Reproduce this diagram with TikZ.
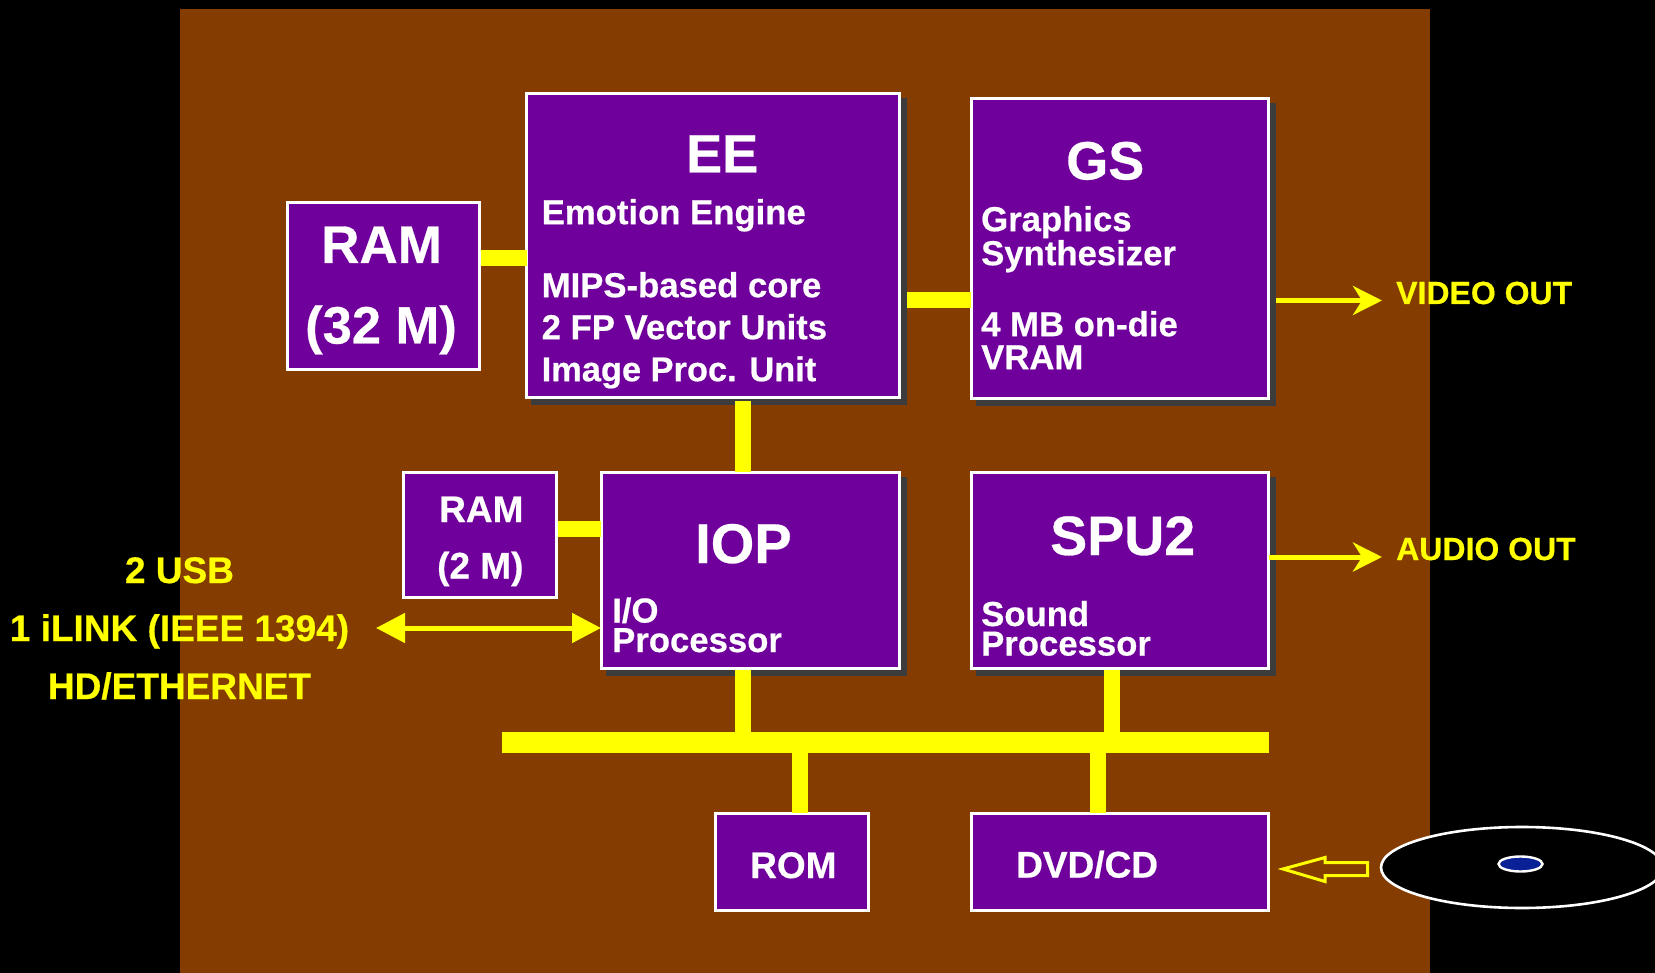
\documentclass[tikz,border=0pt]{standalone}
\usepackage{fontspec}
\setmainfont[BoldFeatures={FakeBold=0.5}]{Liberation Sans}
\usetikzlibrary{arrows.meta,shadows}
\definecolor{brownbg}{RGB}{132,60,0}
\definecolor{boxpurple}{RGB}{111,0,155}
\definecolor{shadowgrey}{RGB}{60,60,60}
\definecolor{hubblue}{RGB}{10,32,150}
\definecolor{pureyellow}{RGB}{255,255,0}
\definecolor{purewhite}{RGB}{255,255,255}
\newcommand{\bfsize}[1]{\fontsize{#1}{#1}\bfseries\selectfont}
\tikzset{
  x=1pt,y=-1pt,
  blockbox/.style={draw=purewhite,line width=3pt,fill=boxpurple,inner sep=0pt,outer sep=0pt,anchor=north west},
  shadowed/.style={blockbox,drop shadow={shadow xshift=6pt,shadow yshift=-6pt,fill=shadowgrey,draw=shadowgrey,line width=3pt,opacity=1}},
  big/.style={font=\bfsize{54},text=purewhite,inner sep=0pt,anchor=base west},
  mid/.style={font=\bfsize{37},text=purewhite,inner sep=0pt,anchor=base west},
  small/.style={font=\bfsize{34.7},text=purewhite,inner sep=0pt,anchor=base west},
  ylabel/.style={font=\bfsize{32},text=pureyellow,inner sep=0pt,anchor=base west},
  leftlabel/.style={font=\bfsize{37},text=pureyellow,inner sep=0pt,anchor=base},
  thick bus/.style={draw=pureyellow,line width=16pt},
  thin arrow/.style={draw=pureyellow,line width=5pt},
}
\begin{document}
\begin{tikzpicture}
\useasboundingbox (0,0) rectangle (1655,973);
\clip (0,0) rectangle (1655,973);
\fill[black] (0,0) rectangle (1655,973);
\fill[brownbg] (180,9) rectangle (1430,973);

\node[shadowed,minimum width=372.5pt,minimum height=304.5pt] (ee) at (526.5,93.5) {};
\node[shadowed,minimum width=297pt,minimum height=300.5pt] (gs) at (971,98.5) {};
\node[blockbox,minimum width=192pt,minimum height=167.5pt] (ram32) at (287,202.5) {};
\node[blockbox,minimum width=153pt,minimum height=125.5pt] (ram2) at (403,472) {};
\node[shadowed,minimum width=298pt,minimum height=196pt] (iop) at (601,472) {};
\node[shadowed,minimum width=297pt,minimum height=196pt] (spu) at (971,472) {};
\node[blockbox,minimum width=153pt,minimum height=97pt] (rom) at (715,813) {};
\node[blockbox,minimum width=297pt,minimum height=97pt] (dvd) at (971,813) {};

% bus
\coordinate (busl) at (502,742);
\coordinate (busr) at (1269,742);
\draw[draw=pureyellow,line width=21pt] (busl) -- (busr);

% connectors
\draw[thick bus] ([xshift=2pt]ram32.east |- 0,258) -- (ee.west |- 0,258);
\draw[thick bus] (907,300) -- (gs.west |- 0,300);
\draw[thick bus] (743,401) -- (iop.north -| 743,0);
\draw[thick bus] ([xshift=2pt]ram2.east |- 0,528.5) -- (iop.west |- 0,528.5);
\draw[thick bus] ([yshift=-2pt]iop.south -| 743,0) -- (743,742);
\draw[thick bus] ([yshift=-2pt]spu.south -| 1112,0) -- (1112,742);
\draw[thick bus] (800,742) -- (rom.north -| 800,0);
\draw[thick bus] (1098,742) -- (dvd.north -| 1098,0);

% arrows
\coordinate (vid) at (1382,300.5);
\coordinate (aud) at (1382,557);
\coordinate (ext) at (376,628);
\draw[thin arrow,-{Stealth[length=29pt,width=29pt,inset=9pt]}] (1276,300.5) -- (vid);
\draw[thin arrow,-{Stealth[length=29pt,width=29pt,inset=9pt]}] ([xshift=1pt]spu.east |- aud) -- (aud);
\draw[thin arrow,{Triangle[length=29pt,width=29pt]}-{Triangle[length=29pt,width=29pt]}] (ext) -- (iop.west |- ext);

% hollow arrow
\draw[pureyellow,line width=3pt,miter limit=10] (1283,869) -- (1325,857.5) -- (1325,862.5) -- (1367.5,862.5) -- (1367.5,875.5) -- (1325,875.5) -- (1325,881.5) -- cycle;

% disc
\draw[purewhite,line width=2.6pt,fill=black] (1522,867.5) ellipse [x radius=141,y radius=40.5];
\draw[purewhite,line width=2.4pt,fill=hubblue] (1520.5,864) ellipse [x radius=22,y radius=7.5];

% text
\node[big] (t1) at (686,172.5) {EE};
\node[small] (t2) at (541.5,224.2) {Emotion Engine};
\node[small] (t3) at (541.5,297.2) {MIPS-based core};
\node[small] (t4) at (541.5,339.2) {2 FP Vector Units};
\node[small,font=\bfsize{34.4}] (t5) at (541.5,381.2) {Image Proc. Unit};
\node[big] (t6) at (1066,179.5) {GS};
\node[small] (t7) at (981,231.2) {Graphics};
\node[small] (t8) at (981,265.2) {Synthesizer};
\node[small] (t9) at (981,336.2) {4 MB on-die};
\node[small] (t10) at (981,369.2) {VRAM};
\node[big,font=\bfsize{53}] (t11) at (321,263) {RAM};
\node[big,font=\bfsize{52.5}] (t12) at (305,343.5) {(32 M)};
\node[mid] (t13) at (439,522) {RAM};
\node[mid] (t14) at (437,578.5) {(2 M)};
\node[big,font=\bfsize{56}] (t15) at (695,563) {IOP};
\node[small] (t16) at (612,622.5) {I/O};
\node[small] (t17) at (612,652) {Processor};
\node[big,font=\bfsize{55.5}] (t18) at (1050,555) {SPU2};
\node[small] (t19) at (981,626) {Sound};
\node[small] (t20) at (981,655.5) {Processor};
\node[mid] (t21) at (750,878) {ROM};
\node[mid] (t22) at (1016,877.5) {DVD/CD};
\node[ylabel] (t23) at (1396,304) {VIDEO OUT};
\node[ylabel] (t24) at (1396,560) {AUDIO OUT};
\node[leftlabel] (t25) at (179.5,583) {2 USB};
\node[leftlabel] (t26) at (179.5,641) {1 iLINK (IEEE 1394)};
\node[leftlabel] (t27) at (179.5,699) {HD/ETHERNET};
\end{tikzpicture}
\end{document}
